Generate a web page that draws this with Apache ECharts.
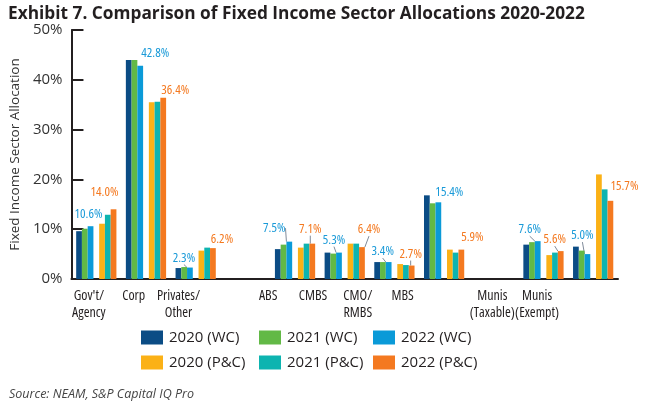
<!DOCTYPE html>
<html>
<head>
<meta charset="utf-8">
<script src="https://cdn.jsdelivr.net/npm/echarts@6/dist/echarts.min.js"></script>
<style>
html,body{margin:0;padding:0;background:#fff;}
#chart{width:646px;height:403px;}
</style>
</head>
<body>
<div id="chart"></div>
<script>
// ---- data ----
const categories = ["Gov't/\nAgency", "Corp", "Privates/\nOther", "", "ABS", "CMBS", "CMO/\nRMBS", "MBS", "", "Munis\n(Taxable)", "Munis\n(Exempt)"];
const wc2020 = [9.6, 44.0, 2.2, null, 6.0, 5.3, 3.4, 16.8, null, 6.9, 6.5];
const wc2021 = [10.1, 44.0, 2.4, null, 6.9, 5.1, 3.4, 15.2, null, 7.4, 5.7];
const wc2022 = [10.6, 42.8, 2.3, null, 7.5, 5.3, 3.4, 15.4, null, 7.6, 5.0];
const pc2020 = [11.1, 35.5, 5.7, null, 6.3, 7.1, 3.0, 5.9, null, 4.8, 21.0];
const pc2021 = [12.9, 35.6, 6.3, null, 7.1, 7.1, 2.8, 5.3, null, 5.3, 18.0];
const pc2022 = [14.0, 36.4, 6.2, null, 7.1, 6.4, 2.7, 5.9, null, 5.6, 15.7];
const yTicks = [0, 10, 20, 30, 40, 50];
const seriesNames = ["2020 (WC)", "2021 (WC)", "2022 (WC)", "2020 (P&C)", "2021 (P&C)", "2022 (P&C)"];

// ---- label placement (layout, not data) ----
const wcShift = [[-2,-3],[15,-4],[-6,-1],null,[-15,-5],[-5,-4],[-6,-2],[11,-2],null,[-8,-3],[-5,-10]];
const pcShift = [[-9,-8],[12,1],[9,0],null,[-2,-6],[7,-9],[-1,-3],[11,-4],null,[-6,-3],[14,-6]];
const wcLeader = [0,0,1,0,1,1,1,0,0,1,1];
const pcLeader = [0,0,0,0,1,1,1,0,0,1,0];

const colors = ['#0b4c85', '#62b946', '#0a9ad8', '#fbb116', '#0db4b0', '#f47920'];
const narrow = '"Open Sans",sans-serif';
const cond = 'condensed';

function plain(name, arr, color) {
  return { name: name, type: 'bar', data: arr, itemStyle: { color: color }, barGap: '0%', barCategoryGap: '19%' };
}
function labelled(name, arr, color, lblColor, shifts, leaders) {
  return {
    name: name, type: 'bar', itemStyle: { color: color }, barGap: '0%', barCategoryGap: '19%',
    data: arr.map((v, i) => ({ value: v, labelLine: { show: !!leaders[i] } })),
    label: {
      show: true, position: 'top', distance: 2,
      fontFamily: narrow, fontStyle: cond, fontSize: 13, color: lblColor,
      formatter: p => (p.value == null ? '' : p.value.toFixed(1) + '%')
    },
    labelLine: { show: false, lineStyle: { color: '#7f8a99', width: 1 }, length2: 0 },
    labelLayout: function (p) {
      const s = shifts[p.dataIndex];
      return s ? { dx: s[0], dy: s[1] } : {};
    }
  };
}
function colLegend(names, left) {
  return { data: names, left: left, top: 330, orient: 'vertical', padding: 0,
    itemWidth: 22, itemHeight: 14, itemGap: 10, icon: 'rect',
    textStyle: { fontFamily: '"Open Sans",sans-serif', fontSize: 15, color: '#231f20', padding: [0, 0, 0, 1] } };
}

const chart = echarts.init(document.getElementById('chart'), null, { renderer: 'canvas' });
chart.setOption({
  animation: false,
  color: colors,
  title: [
    { text: 'Exhibit 7. Comparison of Fixed Income Sector Allocations 2020-2022', left: 3, top: 1,
      textStyle: { fontFamily: '"Open Sans",sans-serif', fontWeight: 'bold', fontSize: 17.3, color: '#231f20' } },
    { text: 'Source: NEAM, S&P Capital IQ Pro', left: 4, top: 383,
      textStyle: { fontFamily: '"Open Sans",sans-serif', fontStyle: 'italic', fontWeight: 'normal', fontSize: 12.5, color: '#444' } }
  ],
  legend: [
    colLegend([seriesNames[0], seriesNames[3]], 141),
    colLegend([seriesNames[1], seriesNames[4]], 259),
    colLegend([seriesNames[2], seriesNames[5]], 373)
  ],
  grid: [
    { left: 68, right: 28, top: 30, bottom: 124 },
    { left: 66.5, width: 493, top: 30, bottom: 124 }
  ],
  xAxis: [
    { type: 'category', data: categories, gridIndex: 0,
      axisLine: { lineStyle: { color: '#231f20', width: 2 } },
      axisTick: { inside: true, length: 6, lineStyle: { color: '#231f20', width: 2 } },
      axisLabel: { show: false } },
    { type: 'category', data: categories, gridIndex: 1,
      axisLine: { show: false }, axisTick: { show: false },
      axisLabel: { margin: 9, fontFamily: narrow, fontStyle: cond, fontSize: 14, lineHeight: 17, color: '#231f20', interval: 0 } }
  ],
  yAxis: [
    { type: 'value', gridIndex: 0, min: yTicks[0], max: yTicks[yTicks.length - 1], interval: 10,
      name: 'Fixed Income Sector Allocation', nameLocation: 'middle', nameGap: 47,
      nameTextStyle: { fontFamily: '"Open Sans",sans-serif', fontSize: 13.5, color: '#333' },
      axisLine: { show: true, lineStyle: { color: '#231f20', width: 2 } },
      axisTick: { show: true, inside: true, length: 12, lineStyle: { color: '#231f20', width: 2 } },
      splitLine: { show: false },
      axisLabel: { margin: 9, formatter: '{value}%', fontFamily: '"Open Sans",sans-serif', fontSize: 15, color: '#333' } },
    { type: 'value', gridIndex: 1, show: false, min: 0, max: 50 }
  ],
  series: [
    plain(seriesNames[0], wc2020, colors[0]),
    plain(seriesNames[1], wc2021, colors[1]),
    labelled(seriesNames[2], wc2022, colors[2], '#1a9ad8', wcShift, wcLeader),
    { name: 'spacer', type: 'bar', data: categories.map(() => null), barGap: '0%', barCategoryGap: '19%' },
    plain(seriesNames[3], pc2020, colors[3]),
    plain(seriesNames[4], pc2021, colors[4]),
    labelled(seriesNames[5], pc2022, colors[5], '#f47920', pcShift, pcLeader)
  ]
});
</script>
</body>
</html>
